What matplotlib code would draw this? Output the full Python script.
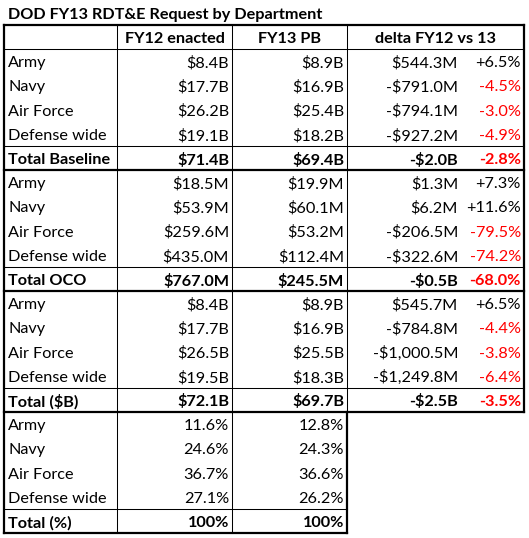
import matplotlib
matplotlib.use("Agg")
import matplotlib.pyplot as plt

TITLE = "DOD FY13 RDT&E Request by Department"
HEADERS = ["", "FY12 enacted", "FY13 PB", "delta FY12 vs 13"]
DEPARTMENTS = ["Army", "Navy", "Air Force", "Defense wide"]

# baseline, $B
base_fy12 = [8.4, 17.7, 26.2, 19.1]
base_fy13 = [8.9, 16.9, 25.4, 18.2]
base_delta_m = [544.3, -791.0, -794.1, -927.2]
base_pct = [6.5, -4.5, -3.0, -4.9]
base_total = [71.4, 69.4, -2.0, -2.8]

# OCO, $M
oco_fy12 = [18.5, 53.9, 259.6, 435.0]
oco_fy13 = [19.9, 60.1, 53.2, 112.4]
oco_delta_m = [1.3, 6.2, -206.5, -322.6]
oco_pct = [7.3, 11.6, -79.5, -74.2]
oco_total_m = [767.0, 245.5]
oco_total_delta_b = -0.5
oco_total_pct = -68.0

# total, $B
tot_fy12 = [8.4, 17.7, 26.5, 19.5]
tot_fy13 = [8.9, 16.9, 25.5, 18.3]
tot_delta_m = [545.7, -784.8, -1000.5, -1249.8]
tot_pct = [6.5, -4.4, -3.8, -6.4]
tot_total = [72.1, 69.7, -2.5, -3.5]

# share of total, %
share_fy12 = [11.6, 24.6, 36.7, 27.1]
share_fy13 = [12.8, 24.3, 36.6, 26.2]

W, H = 529, 538
FONT = "Lato"
FS = 11.7
RED = "#ff0000"

X0, X1, X2, X3, X4 = 4, 117, 232, 347, 524
Y0 = 25
ROW_H = (533 - 25) / 21


def money(v, unit):
    sign = "-" if v < 0 else ""
    return f"{sign}${abs(v):,.1f}{unit}"


def pct(v):
    return f"{v:+.1f}%"


fig = plt.figure(figsize=(W / 100, H / 100), dpi=100)
ax = fig.add_axes([0, 0, 1, 1])
ax.set_xlim(0, W)
ax.set_ylim(H, 0)
ax.axis("off")

ax.text(8, 14.5, TITLE, fontsize=FS, fontweight="bold", family=FONT, va="center", ha="left")


def put(row, x, s, ha="right", bold=False, color="black"):
    y = Y0 + (row + 0.5) * ROW_H + 2
    ax.text(x, y, s, ha=ha, va="center", fontsize=FS, family=FONT,
            fontweight="bold" if bold else "normal", color=color)


# header
for x, h in zip([(X1 + X2) / 2, (X2 + X3) / 2, (X3 + X4) / 2], HEADERS[1:]):
    put(0, x, h, ha="center", bold=True)

LX, C1, C2, CA, CP = 8, 229, 344, 458, 521

sections = [
    (base_fy12, base_fy13, base_delta_m, base_pct, "B", "B"),
    (oco_fy12, oco_fy13, oco_delta_m, oco_pct, "M", "M"),
    (tot_fy12, tot_fy13, tot_delta_m, tot_pct, "B", "B"),
]
totals = [
    ("Total Baseline", money(base_total[0], "B"), money(base_total[1], "B"),
     money(base_total[2], "B"), base_total[3]),
    ("Total OCO", money(oco_total_m[0], "M"), money(oco_total_m[1], "M"),
     money(oco_total_delta_b, "B"), oco_total_pct),
    ("Total ($B)", money(tot_total[0], "B"), money(tot_total[1], "B"),
     money(tot_total[2], "B"), tot_total[3]),
]

row = 1
for (a, b, d, p, u1, u2), (tl, t1, t2, td, tp) in zip(sections, totals):
    for i, dep in enumerate(DEPARTMENTS):
        put(row, LX, dep, ha="left")
        put(row, C1, money(a[i], u1))
        put(row, C2, money(b[i], u2))
        put(row, CA, money(d[i], "M"))
        put(row, CP, pct(p[i]), color=RED if p[i] < 0 else "black")
        row += 1
    put(row, LX, tl, ha="left", bold=True)
    put(row, C1, t1, bold=True)
    put(row, C2, t2, bold=True)
    put(row, CA, td, bold=True)
    put(row, CP, f"{tp:.1f}%", bold=True, color=RED)
    row += 1

for i, dep in enumerate(DEPARTMENTS):
    put(row, LX, dep, ha="left")
    put(row, C1, f"{share_fy12[i]:.1f}%")
    put(row, C2, f"{share_fy13[i]:.1f}%")
    row += 1
put(row, LX, "Total (%)", ha="left", bold=True)
put(row, C1, "100%", bold=True)
put(row, C2, "100%", bold=True)


def yline(r):
    return Y0 + r * ROW_H


def hline(y, xa, xb, lw):
    ax.plot([xa, xb], [y, y], color="black", lw=lw, solid_capstyle="projecting")


def vline(x, ya, yb, lw):
    ax.plot([x, x], [ya, yb], color="black", lw=lw, solid_capstyle="projecting")


THIN, THICK = 0.75, 1.6
# horizontal rules
hline(yline(0), X0, X4, THICK)
hline(yline(1), X0, X4, THIN)
for sec in range(3):
    hline(yline(5 + sec * 5), X0, X4, THIN)
    hline(yline(6 + sec * 5), X0, X4, THICK)
hline(yline(20), X0, X3, THIN)
hline(yline(21), X0, X3, THICK)
# vertical rules
vline(X0, yline(0), yline(21), THICK)
vline(X1, yline(0), yline(21), THIN)
vline(X2, yline(0), yline(21), THIN)
vline(X3, yline(0), yline(16), THIN)
vline(X3, yline(16), yline(21), THICK)
vline(X4, yline(0), yline(16), THICK)

fig.savefig("out.png", dpi=100, facecolor="white")
